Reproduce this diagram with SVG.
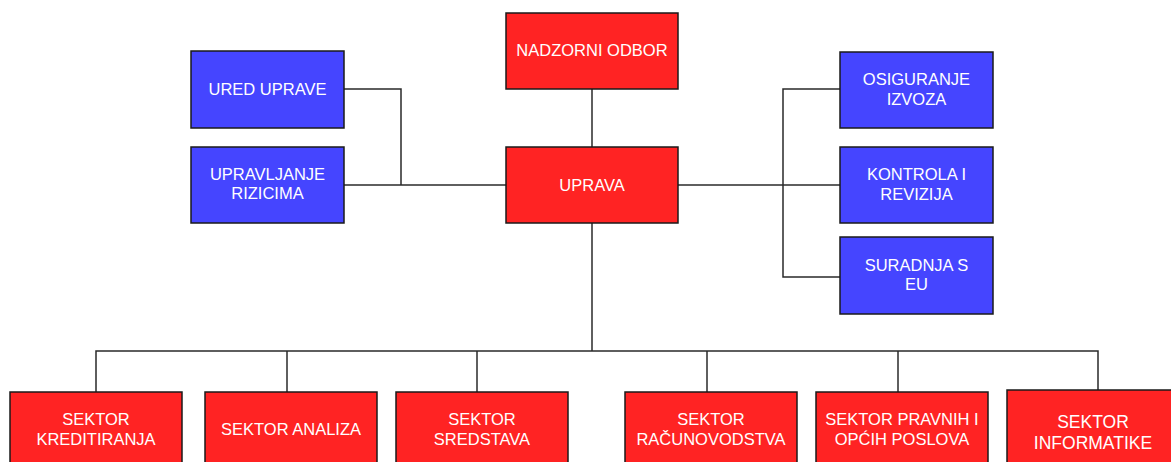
<svg xmlns="http://www.w3.org/2000/svg" width="1171" height="462" viewBox="0 0 1171 462">
<style>
.red{fill:#FF2323;stroke:#1a1a1a;stroke-width:1.5}
.blue{fill:#4545FF;stroke:#1a1a1a;stroke-width:1.5}
.t{font-family:"Liberation Sans",Arial,sans-serif;font-size:16.5px;fill:#FFFFFF;text-anchor:middle}
.t2{font-family:"Liberation Sans",Arial,sans-serif;font-size:17.5px;fill:#FFFFFF;text-anchor:middle}
.c{fill:none;stroke:#2a2a2a;stroke-width:1.5}
</style>
<rect width="1171" height="462" fill="#FFFFFF"/>
<g id="connectors">
<path class="c" d="M592 89V147"/>
<path class="c" d="M344 89H401V185"/>
<path class="c" d="M344 185H506"/>
<path class="c" d="M678 185H840"/>
<path class="c" d="M840 89H783V277H840"/>
<path class="c" d="M592 223V351"/>
<path class="c" d="M96 392V351H1098V390"/>
<path class="c" d="M287 351V392"/>
<path class="c" d="M477 351V392"/>
<path class="c" d="M707 351V392"/>
<path class="c" d="M898 351V392"/>
</g>
<g id="nadzorni-odbor">
<rect class="red" x="506" y="13" width="172" height="76"/>
<text class="t" x="592" y="56">NADZORNI ODBOR</text>
</g>
<g id="uprava">
<rect class="red" x="506" y="147" width="172" height="76"/>
<text class="t" x="592" y="191">UPRAVA</text>
</g>
<g id="ured-uprave">
<rect class="blue" x="191" y="51" width="153" height="77"/>
<text class="t" x="267.5" y="95">URED UPRAVE</text>
</g>
<g id="upravljanje-rizicima">
<rect class="blue" x="191" y="147" width="153" height="76"/>
<text class="t" x="267.5" y="180">UPRAVLJANJE</text>
<text class="t" x="267.5" y="199">RIZICIMA</text>
</g>
<g id="osiguranje-izvoza">
<rect class="blue" x="840" y="52" width="153" height="76"/>
<text class="t" x="916.5" y="85">OSIGURANJE</text>
<text class="t" x="916.5" y="105">IZVOZA</text>
</g>
<g id="kontrola-i-revizija">
<rect class="blue" x="840" y="147" width="153" height="76"/>
<text class="t" x="916.5" y="180">KONTROLA I</text>
<text class="t" x="916.5" y="200">REVIZIJA</text>
</g>
<g id="suradnja-s-eu">
<rect class="blue" x="840" y="237" width="153" height="77"/>
<text class="t" x="916.5" y="271">SURADNJA S</text>
<text class="t" x="916.5" y="290">EU</text>
</g>
<g id="sektor-kreditiranja">
<rect class="red" x="10" y="392" width="172" height="80"/>
<text class="t" x="96" y="425">SEKTOR</text>
<text class="t" x="96" y="445">KREDITIRANJA</text>
</g>
<g id="sektor-analiza">
<rect class="red" x="205" y="392" width="172" height="80"/>
<text class="t" x="291" y="435">SEKTOR ANALIZA</text>
</g>
<g id="sektor-sredstava">
<rect class="red" x="396" y="392" width="172" height="80"/>
<text class="t" x="482" y="425">SEKTOR</text>
<text class="t" x="482" y="445">SREDSTAVA</text>
</g>
<g id="sektor-racunovodstva">
<rect class="red" x="625" y="392" width="172" height="80"/>
<text class="t" x="711" y="425">SEKTOR</text>
<text class="t" x="711" y="445">RAČUNOVODSTVA</text>
</g>
<g id="sektor-pravnih">
<rect class="red" x="816" y="392" width="172" height="80"/>
<text class="t" x="902" y="425">SEKTOR PRAVNIH I</text>
<text class="t" x="902" y="445">OPĆIH POSLOVA</text>
</g>
<g id="sektor-informatike">
<rect class="red" x="1007" y="390" width="172" height="84"/>
<text class="t2" x="1093" y="428">SEKTOR</text>
<text class="t2" x="1093" y="448.5">INFORMATIKE</text>
</g>
</svg>
